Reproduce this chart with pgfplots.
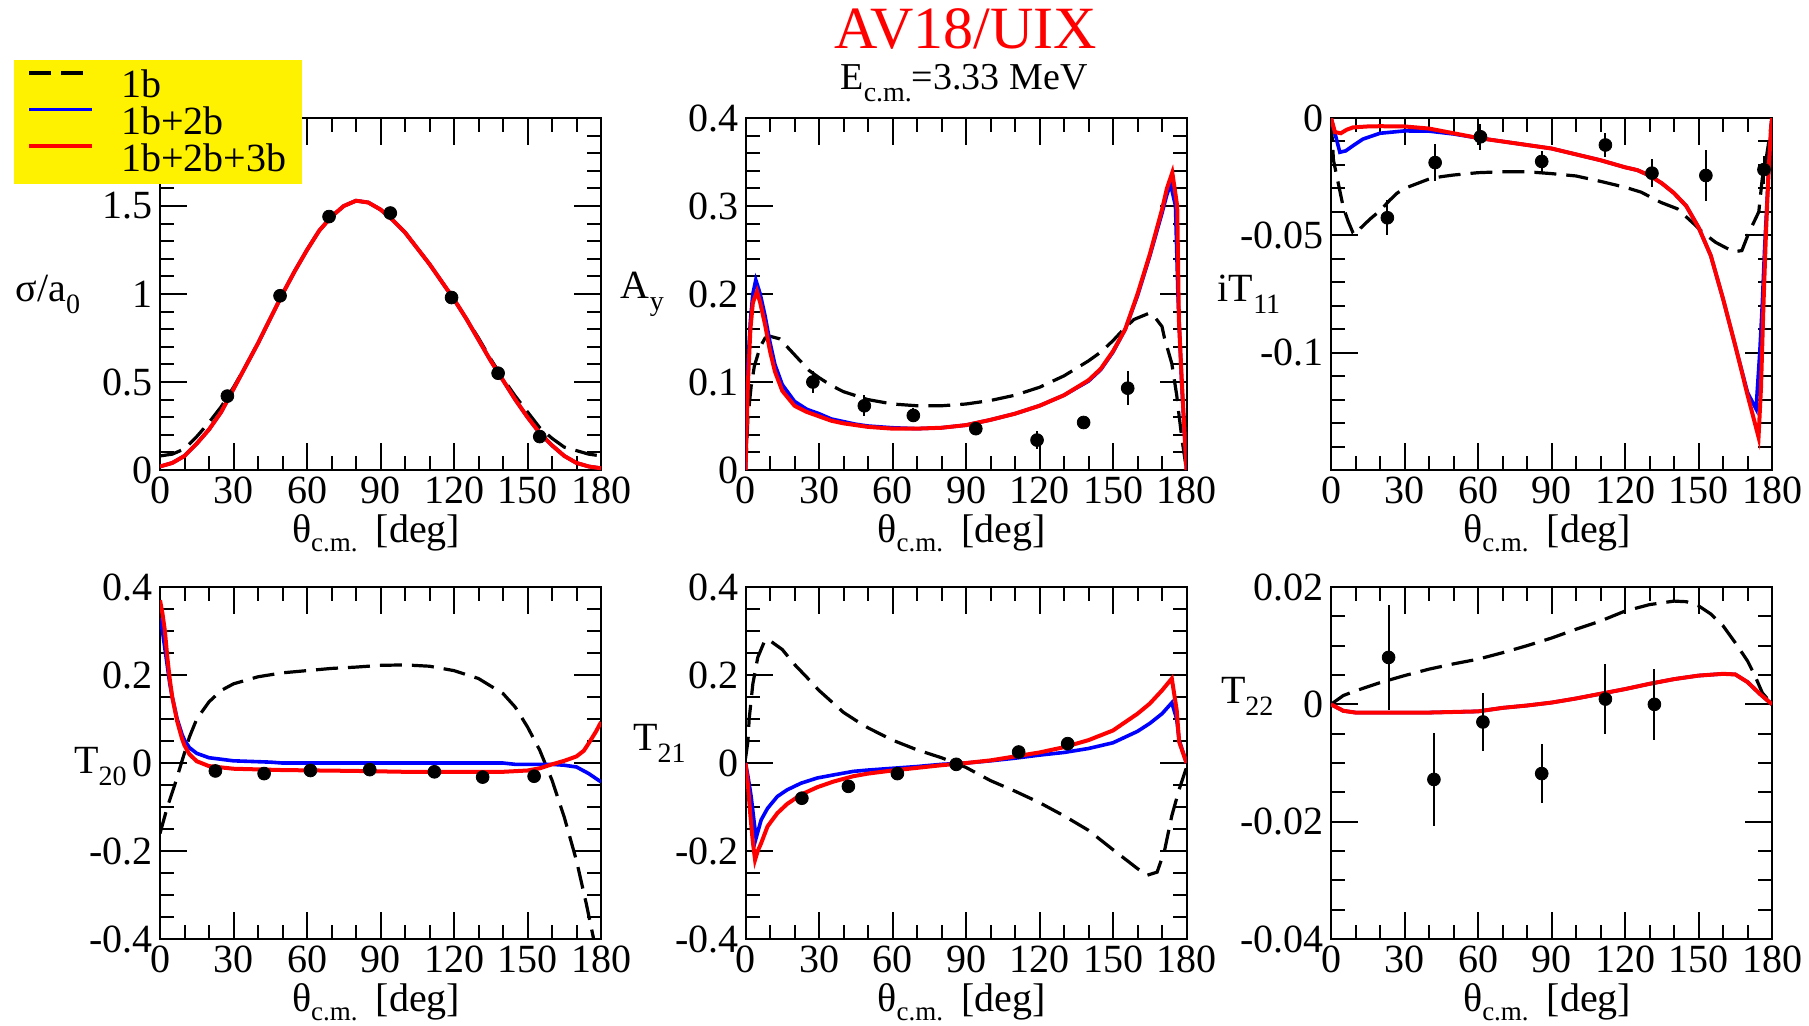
\documentclass[border=0pt]{standalone}
\usepackage{fontspec}
\setmainfont{Liberation Serif}
\usepackage{pgfplots}
\pgfplotsset{compat=1.18}
\newcommand{\fs}{\fontsize{20}{24}\selectfont}
\newcommand{\sub}[1]{\raisebox{-0.3em}{\fontsize{14}{14}\selectfont #1}}
\newcommand{\xsub}[1]{\raisebox{-0.24em}{\fontsize{13.5}{14}\selectfont #1}}
\pgfplotsset{
  myax/.style={
    scale only axis, width=220.5pt, height=176pt, anchor=south west,
    scaled ticks=false,
    xmin=0, xmax=180, xtick={0,30,60,90,120,150,180},
    xticklabels={0,30,60,90,120,150,180},
    minor xtick={10,20,40,50,70,80,100,110,130,140,160,170},
    tick align=inside,
    major tick length=13.5pt, minor tick length=7pt,
    tick style={black, line width=1pt},
    axis line style={line width=1pt},
    tick label style={font=\fs},
    label style={font=\fs},
    xlabel={θ\xsub{c.m.}\hspace{9pt}[deg]},
    xlabel style={at={(rel axis cs:0.49,0)}, anchor=base, yshift=-36pt, inner sep=0pt},
    ylabel style={rotate=-90, anchor=center},
  },
  b1/.style={black, line width=1.6pt, dash pattern=on 11pt off 5pt},
  b2/.style={blue, line width=1.8pt},
  b3/.style={red, line width=2pt},
  dat/.style={black, only marks, mark=*, mark size=3.2pt,
    error bars/.cd, y dir=both, y explicit, error mark=none,
    error bar style={line width=1pt, solid}, /pgfplots/.cd},
}
\begin{document}
\begin{tikzpicture}
\path[use as bounding box] (0,0) rectangle (904.5pt,512.5pt);

% ---------- panel 1: sigma/a0
\begin{axis}[myax, at={(80pt,277.5pt)},
  ymin=0, ymax=2, ytick={0,0.5,1,1.5,2}, yticklabels={0,0.5,1,1.5,},
  minor y tick num=4,
  ylabel={σ/a\sub{0}}, ylabel style={at={(rel axis cs:-0.254,0.5)}},
  legend style={at={(rel axis cs:-0.331,1.165)}, anchor=north west, fill=yellow, draw=none,
    font=\fs, inner xsep=6.5pt, inner ysep=3.8pt, row sep=1.0pt, column sep=12.5pt,
    nodes={inner sep=1pt}, cells={anchor=west}},
  legend image code/.code={\draw[#1] (0pt,6.2pt) -- (31.5pt,6.2pt);},
]
\addplot[b1] coordinates {(0,0.08)(5,0.09)(10,0.12)(15,0.19)(20,0.27)(25,0.36)(30,0.47)(35,0.59)(40,0.72)(45,0.86)(50,1.00)(55,1.13)(60,1.25)(65,1.36)(70,1.44)(75,1.50)(80,1.53)(85,1.52)(90,1.48)(95,1.42)(100,1.35)(105,1.26)(110,1.17)(115,1.07)(120,0.97)(125,0.86)(130,0.75)(135,0.63)(140,0.52)(145,0.42)(150,0.33)(155,0.24)(160,0.18)(165,0.13)(170,0.11)(175,0.09)(180,0.08)};
\addlegendentry{1b}
\addplot[b2] coordinates {(0,0.02)(5,0.04)(10,0.08)(15,0.15)(20,0.23)(25,0.33)(30,0.46)(35,0.59)(40,0.72)(45,0.86)(50,1.00)(55,1.13)(60,1.25)(65,1.36)(70,1.44)(75,1.50)(80,1.53)(85,1.52)(90,1.48)(95,1.42)(100,1.35)(105,1.26)(110,1.17)(115,1.07)(120,0.97)(125,0.86)(130,0.74)(135,0.62)(140,0.51)(145,0.40)(150,0.30)(155,0.21)(160,0.14)(165,0.08)(170,0.04)(175,0.02)(180,0.01)};
\addlegendentry{1b+2b}
\addplot[b3] coordinates {(0,0.02)(5,0.04)(10,0.08)(15,0.15)(20,0.23)(25,0.33)(30,0.46)(35,0.59)(40,0.72)(45,0.86)(50,1.00)(55,1.13)(60,1.25)(65,1.36)(70,1.44)(75,1.50)(80,1.53)(85,1.52)(90,1.48)(95,1.42)(100,1.35)(105,1.26)(110,1.17)(115,1.07)(120,0.97)(125,0.86)(130,0.74)(135,0.62)(140,0.51)(145,0.40)(150,0.30)(155,0.21)(160,0.14)(165,0.08)(170,0.04)(175,0.02)(180,0.01)};
\addlegendentry{1b+2b+3b}
\addplot[forget plot, dat] table[x=x, y=y, y error=e] {
x y e
27.5 0.42 0.02
49 0.99 0.02
69 1.44 0.02
94 1.46 0.02
119 0.98 0.02
138 0.55 0.02
155 0.19 0.02
};
\end{axis}

% ---------- panel 2: Ay
\begin{axis}[myax, at={(372.75pt,277.5pt)},
  ymin=0, ymax=0.4, ytick={0,0.1,0.2,0.3,0.4}, yticklabels={0,0.1,0.2,0.3,0.4},
  minor y tick num=4,
  ylabel={A\sub{y}}, ylabel style={at={(rel axis cs:-0.234,0.5)}},
]
\addplot[b1] coordinates {(0,0)(1,0.06)(2.3,0.095)(3.6,0.118)(6,0.14)(8,0.15)(10,0.152)(14,0.149)(18,0.137)(22,0.125)(26,0.113)(30,0.105)(35,0.096)(40,0.089)(50,0.080)(60,0.075)(70,0.073)(80,0.073)(90,0.075)(100,0.079)(110,0.085)(120,0.094)(130,0.107)(140,0.124)(145,0.134)(150,0.147)(154,0.159)(158.5,0.171)(164.6,0.178)(167,0.174)(170,0.163)(171,0.150)(174,0.121)(176,0.085)(177,0.061)(178.2,0.034)(180,0)};
\addplot[b2] coordinates {(0,0)(1,0.12)(2,0.17)(3,0.20)(4.2,0.216)(6,0.20)(8,0.175)(10,0.145)(12,0.12)(15,0.097)(20,0.078)(25,0.069)(30,0.064)(35,0.058)(40,0.055)(45,0.052)(50,0.050)(60,0.048)(70,0.047)(80,0.048)(90,0.051)(100,0.057)(110,0.064)(120,0.073)(130,0.085)(140,0.101)(145,0.114)(150,0.134)(155,0.16)(160,0.198)(165,0.243)(170,0.292)(172,0.313)(173.5,0.325)(175.5,0.30)(176.5,0.20)(178,0.10)(180,0)};
\addplot[b3] coordinates {(0,0)(1,0.10)(2,0.16)(3,0.19)(4.7,0.203)(6,0.19)(8,0.165)(10,0.135)(12,0.112)(15,0.090)(20,0.073)(25,0.066)(30,0.061)(35,0.056)(40,0.053)(45,0.051)(50,0.049)(60,0.047)(70,0.047)(80,0.048)(90,0.051)(100,0.057)(110,0.064)(120,0.073)(130,0.085)(140,0.102)(145,0.115)(150,0.135)(155,0.160)(160,0.200)(165,0.245)(170,0.296)(172,0.320)(174.2,0.338)(176.2,0.300)(176.9,0.170)(178.2,0.095)(180,0)};
\addplot[dat] table[x=x, y=y, y error=e] {
x y e
27.5 0.100 0.012
48.5 0.073 0.012
68.5 0.062 0.008
94 0.047 0.004
119 0.034 0.010
138 0.054 0.004
156 0.093 0.019
};
\end{axis}

% ---------- panel 3: iT11
\begin{axis}[myax, at={(665.5pt,277.5pt)},
  ymin=-0.15, ymax=0, ytick={-0.15,-0.1,-0.05,0}, yticklabels={,-0.1,-0.05,0},
  minor y tick num=4,
  ylabel={iT\sub{11}}, ylabel style={at={(rel axis cs:-0.186,0.5)}},
]
\addplot[b1] coordinates {(0,0)(1,-0.018)(3,-0.028)(5,-0.038)(7,-0.044)(9,-0.049)(10,-0.0495)(12,-0.047)(16,-0.043)(20,-0.0395)(24,-0.035)(27,-0.032)(30,-0.030)(35,-0.028)(40,-0.026)(45,-0.025)(50,-0.0243)(60,-0.0233)(70,-0.0229)(80,-0.0229)(90,-0.0237)(100,-0.0247)(110,-0.027)(120,-0.0295)(126.6,-0.0316)(134.7,-0.036)(141.4,-0.0387)(148,-0.045)(152,-0.049)(157,-0.053)(164.3,-0.057)(167.7,-0.0565)(170.5,-0.049)(174.6,-0.040)(176,-0.026)(177.5,-0.018)(179,-0.008)(180,0)};
\addplot[b2] coordinates {(0,0)(3.6,-0.0146)(6,-0.014)(9,-0.0118)(13,-0.009)(20,-0.0065)(30,-0.0055)(40,-0.0056)(50,-0.0068)(60,-0.0085)(70,-0.010)(80,-0.0115)(90,-0.013)(100,-0.0155)(110,-0.018)(120,-0.021)(125,-0.0222)(130,-0.0245)(135,-0.0278)(140,-0.032)(145,-0.0375)(150,-0.0466)(155,-0.0586)(160,-0.077)(165,-0.097)(170,-0.117)(173.5,-0.124)(175,-0.10)(176,-0.08)(177,-0.055)(178,-0.035)(179,-0.015)(180,0)};
\addplot[b3] coordinates {(0,0)(1.6,-0.006)(4,-0.0065)(6.4,-0.005)(9,-0.004)(15,-0.0036)(20,-0.0035)(30,-0.0036)(40,-0.0045)(50,-0.0065)(60,-0.0085)(70,-0.010)(80,-0.0115)(90,-0.013)(100,-0.0155)(110,-0.018)(120,-0.021)(125,-0.0222)(130,-0.0245)(135,-0.0278)(140,-0.032)(145,-0.0375)(150,-0.0466)(155,-0.0586)(160,-0.077)(165,-0.097)(170,-0.118)(172.5,-0.128)(174.5,-0.136)(175.5,-0.115)(176.5,-0.08)(177.5,-0.05)(178.5,-0.025)(179.5,-0.006)(180,0)};
\addplot[dat] table[x=x, y=y, y error=e] {
x y e
23 -0.0425 0.0075
42.5 -0.019 0.008
61 -0.008 0.0055
86 -0.0185 0.0045
112 -0.0115 0.005
131 -0.0235 0.006
153 -0.0245 0.011
176.7 -0.022 0.006
};
\end{axis}

% ---------- panel 4: T20
\begin{axis}[myax, at={(80pt,43pt)},
  ymin=-0.4, ymax=0.4, ytick={-0.4,-0.2,0,0.2,0.4}, yticklabels={-0.4,-0.2,0,0.2,0.4},
  minor y tick num=3,
  ylabel={T\sub{20}}, ylabel style={at={(rel axis cs:-0.135,0.49)}},
]
\addplot[b1] coordinates {(0,-0.16)(3,-0.10)(6,-0.05)(9,0.005)(12,0.059)(15,0.10)(20,0.139)(25,0.165)(30,0.18)(40,0.196)(50,0.205)(60,0.21)(70,0.215)(80,0.218)(90,0.222)(100,0.223)(110,0.22)(120,0.21)(130,0.192)(140,0.158)(145,0.127)(150,0.082)(155,0.029)(160,-0.039)(165,-0.123)(170,-0.222)(174,-0.32)(177,-0.40)(178,-0.45)};
\addplot[b2] coordinates {(0,0.33)(1,0.30)(2,0.26)(3,0.22)(4,0.18)(5,0.15)(7,0.10)(9,0.065)(10,0.052)(12,0.035)(15,0.022)(20,0.012)(30,0.005)(45,0.002)(50,0)(140,0)(145,-0.003)(160,-0.003)(165,-0.005)(170,-0.009)(175,-0.024)(180,-0.043)};
\addplot[b3] coordinates {(0,0.37)(1,0.34)(2,0.30)(3,0.24)(4,0.19)(5,0.15)(7,0.095)(9,0.055)(10,0.04)(12,0.02)(15,0.004)(20,-0.007)(30,-0.013)(50,-0.016)(80,-0.018)(100,-0.02)(140,-0.02)(150,-0.017)(155,-0.012)(160,-0.003)(165,0.005)(170,0.015)(173,0.028)(175,0.045)(178,0.072)(180,0.093)};
\addplot[dat] table[x=x, y=y, y error=e] {
x y e
22.6 -0.018 0.008
42.5 -0.024 0.008
61.4 -0.017 0.008
85.6 -0.015 0.008
112 -0.020 0.008
131.7 -0.032 0.008
152.7 -0.030 0.008
};
\end{axis}

% ---------- panel 5: T21
\begin{axis}[myax, at={(372.75pt,43pt)},
  ymin=-0.4, ymax=0.4, ytick={-0.4,-0.2,0,0.2,0.4}, yticklabels={-0.4,-0.2,0,0.2,0.4},
  minor y tick num=3,
  ylabel={T\sub{21}}, ylabel style={at={(rel axis cs:-0.195,0.555)}},
]
\addplot[b1] coordinates {(0,0.01)(1,0.05)(1.5,0.10)(3,0.18)(5,0.24)(8,0.28)(10,0.278)(15,0.258)(20,0.224)(25,0.195)(30,0.165)(35,0.14)(40,0.115)(45,0.097)(50,0.08)(60,0.052)(70,0.03)(80,0.012)(90,-0.01)(100,-0.04)(110,-0.064)(120,-0.09)(130,-0.12)(140,-0.153)(150,-0.197)(160,-0.24)(164,-0.255)(168,-0.248)(171,-0.20)(174,-0.12)(177,-0.06)(180,-0.01)};
\addplot[b2] coordinates {(0,0)(1,-0.03)(2.3,-0.076)(4.3,-0.171)(6.4,-0.129)(9,-0.103)(13,-0.076)(17,-0.061)(22.6,-0.046)(29.3,-0.034)(36,-0.027)(44,-0.019)(50,-0.016)(60,-0.012)(70,-0.008)(80,-0.003)(90,0)(100,0.005)(110,0.011)(120,0.018)(130,0.024)(140,0.033)(150,0.046)(160,0.072)(165,0.09)(170,0.112)(174,0.137)(176,0.10)(177,0.052)(180,0)};
\addplot[b3] coordinates {(0,0)(1,-0.05)(2,-0.12)(3,-0.18)(3.9,-0.22)(5,-0.20)(6.4,-0.182)(9,-0.144)(13,-0.114)(17,-0.093)(22.6,-0.072)(29.3,-0.055)(36,-0.042)(44,-0.030)(50,-0.024)(60,-0.017)(70,-0.011)(80,-0.005)(90,0)(100,0.006)(110,0.015)(120,0.024)(130,0.036)(140,0.052)(150,0.074)(160,0.112)(165,0.135)(170,0.165)(174,0.192)(176,0.12)(177,0.048)(180,0)};
\addplot[dat] table[x=x, y=y, y error=e] {
x y e
23 -0.080 0.008
42 -0.053 0.008
62 -0.024 0.008
86 -0.003 0.008
111.5 0.025 0.008
131.5 0.044 0.008
};
\end{axis}

% ---------- panel 6: T22
\begin{axis}[myax, at={(665.5pt,43pt)},
  ymin=-0.04, ymax=0.02, ytick={-0.04,-0.02,0,0.02}, yticklabels={-0.04,-0.02,0,0.02},
  minor y tick num=3,
  ylabel={T\sub{22}}, ylabel style={at={(rel axis cs:-0.19,0.69)}},
]
\addplot[b1] coordinates {(0,0)(5,0.0015)(10,0.0023)(20,0.0037)(30,0.0049)(40,0.006)(50,0.0069)(60,0.0077)(70,0.0088)(80,0.01)(90,0.0113)(100,0.0128)(110,0.0142)(120,0.0159)(130,0.017)(140,0.0176)(145,0.0175)(150,0.0168)(155,0.0154)(160,0.0134)(165,0.0105)(170,0.0074)(173,0.0049)(176,0.002)(180,0)};
\addplot[b2] coordinates {(0,0)(5,-0.0011)(10,-0.0014)(20,-0.0014)(40,-0.0014)(60,-0.0012)(70,-0.0006)(80,-0.0002)(90,0.0003)(100,0.001)(110,0.0018)(120,0.0026)(130,0.0035)(140,0.0043)(150,0.0049)(160,0.0052)(165,0.0051)(170,0.0038)(175,0.0018)(180,0)};
\addplot[b3] coordinates {(0,0)(5,-0.0011)(10,-0.0014)(20,-0.0014)(40,-0.0014)(60,-0.0012)(70,-0.0006)(80,-0.0002)(90,0.0003)(100,0.001)(110,0.0018)(120,0.0026)(130,0.0035)(140,0.0043)(150,0.0049)(160,0.0052)(165,0.0051)(170,0.0038)(175,0.0018)(180,0)};
\addplot[dat] table[x=x, y=y, y error=e] {
x y e
23.5 0.008 0.009
42 -0.0128 0.008
62 -0.003 0.005
86 -0.0118 0.005
112 0.0009 0.006
132 0.0 0.006
};
\end{axis}

\node[red, font=\fontsize{30}{36}\selectfont, anchor=base, inner sep=0pt] at (483pt,488pt) {AV18/UIX};
\node[font=\fontsize{19}{22}\selectfont, anchor=base, inner sep=0pt] at (482pt,467.5pt) {E\sub{c.m.}=3.33 MeV};
\end{tikzpicture}
\end{document}
